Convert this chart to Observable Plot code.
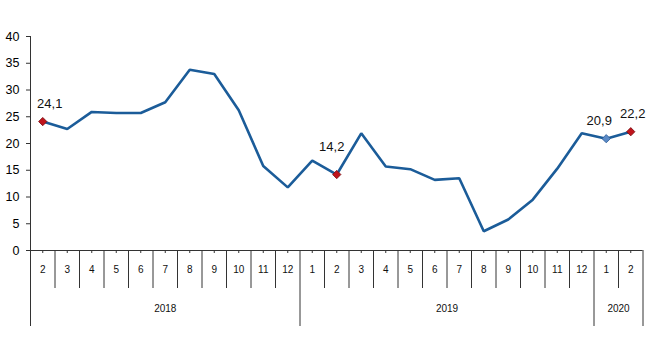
<!DOCTYPE html>
<html>
<head>
<meta charset="utf-8">
<script src="https://cdn.jsdelivr.net/npm/d3@7"></script>
<script src="https://cdn.jsdelivr.net/npm/@observablehq/plot@0.6"></script>
<style>
  html, body { margin: 0; padding: 0; background: #fff; }
  #chart svg { display: block; font-family: "Liberation Sans", Arial, sans-serif; }
</style>
</head>
<body>
<div id="chart"></div>
<script>
// ---- data ----
const years = ["2018", "2019", "2020"];
const monthsPerYear = [11, 12, 2];
const monthLabels = ["2","3","4","5","6","7","8","9","10","11","12",
                     "1","2","3","4","5","6","7","8","9","10","11","12",
                     "1","2"];
const values = [24.1, 22.7, 25.9, 25.7, 25.7, 27.7, 33.8, 33.0, 26.2, 15.8, 11.8,
                16.8, 14.2, 21.9, 15.7, 15.2, 13.2, 13.5, 3.6, 5.8, 9.5, 15.3, 21.9,
                20.9, 22.2];
const yTicks = [0, 5, 10, 15, 20, 25, 30, 35, 40];
const redPoints = [0, 12, 24];
const bluePoints = [23];
const fmt = v => v.toFixed(1).replace(".", ",");

// ---- derived ----
const idx = values.map((_, i) => i);
const rows = idx.map(i => ({i, v: values[i], m: monthLabels[i]}));
const yearStarts = [];
let acc = 0;
monthsPerYear.forEach(n => { yearStarts.push(acc); acc += n; });
const yearBounds = [...yearStarts.map(s => s - 0.5), acc - 0.5];
const monthBounds = idx.slice(1).map(i => i - 0.5).filter(b => !yearBounds.includes(b));
const yearRows = years.map((y, k) => ({y, c: yearStarts[k] + (monthsPerYear[k] - 1) / 2}));

const lineColor = "#1b5c99";
const pt = i => rows[i];
// y-units per pixel below the axis (y: 0..40 over 214px)
const u = 40 / 214;

const chart = Plot.plot({
  width: 650,
  height: 360,
  marginTop: 36,
  marginBottom: 110,
  marginLeft: 30,
  marginRight: 7.5,
  x: {domain: [-0.5, acc - 0.5], axis: null},
  y: {domain: [0, 40], axis: null},
  marks: [
    Plot.axisY({ticks: yTicks, tickSize: 4, tickPadding: 7, fontSize: 12.5, label: null, stroke: "#333"}),
    Plot.ruleX([-0.5], {y1: 40, y2: 0, stroke: "#333"}),
    Plot.ruleY([0], {x1: -0.5, x2: acc - 0.5, stroke: "#333"}),
    Plot.ruleX(idx, {x: d => d, y1: d => 0, y2: d => -3 * u, stroke: "#333"}),
    Plot.ruleX(monthBounds, {x: d => d, y1: d => 0, y2: d => -38 * u, stroke: "#333"}),
    Plot.ruleX(yearBounds, {x: d => d, y1: d => 0, y2: d => -76 * u, stroke: "#333"}),
    Plot.text(rows, {x: "i", y: 0, text: "m", dy: 19, fontSize: 10, fill: "#111"}),
    Plot.text(yearRows, {x: "c", y: 0, text: "y", dy: 58, fontSize: 10, fill: "#111"}),
    Plot.line(rows, {x: "i", y: "v", stroke: lineColor, strokeWidth: 2.6, strokeLinejoin: "miter"}),
    Plot.dot(redPoints.map(pt), {x: "i", y: "v", symbol: "square", rotate: 45, r: 3.3, fill: "#c0141c", stroke: "#7a0c10", strokeWidth: 0.8}),
    Plot.dot(bluePoints.map(pt), {x: "i", y: "v", symbol: "square", rotate: 45, r: 3.3, fill: "#5b8ac6", stroke: "#2f5f99", strokeWidth: 0.8}),
    Plot.text([pt(0)], {x: "i", y: "v", text: d => fmt(d.v), dx: 7, dy: -18, fontSize: 13, fill: "#111"}),
    Plot.text([pt(12)], {x: "i", y: "v", text: d => fmt(d.v), dx: -5, dy: -28, fontSize: 13, fill: "#111"}),
    Plot.text([pt(23)], {x: "i", y: "v", text: d => fmt(d.v), dx: -7, dy: -18, fontSize: 13, fill: "#111"}),
    Plot.text([pt(24)], {x: "i", y: "v", text: d => fmt(d.v), dx: 2, dy: -18, fontSize: 13, fill: "#111"})
  ]
});
document.getElementById("chart").appendChild(chart);
</script>
</body>
</html>
